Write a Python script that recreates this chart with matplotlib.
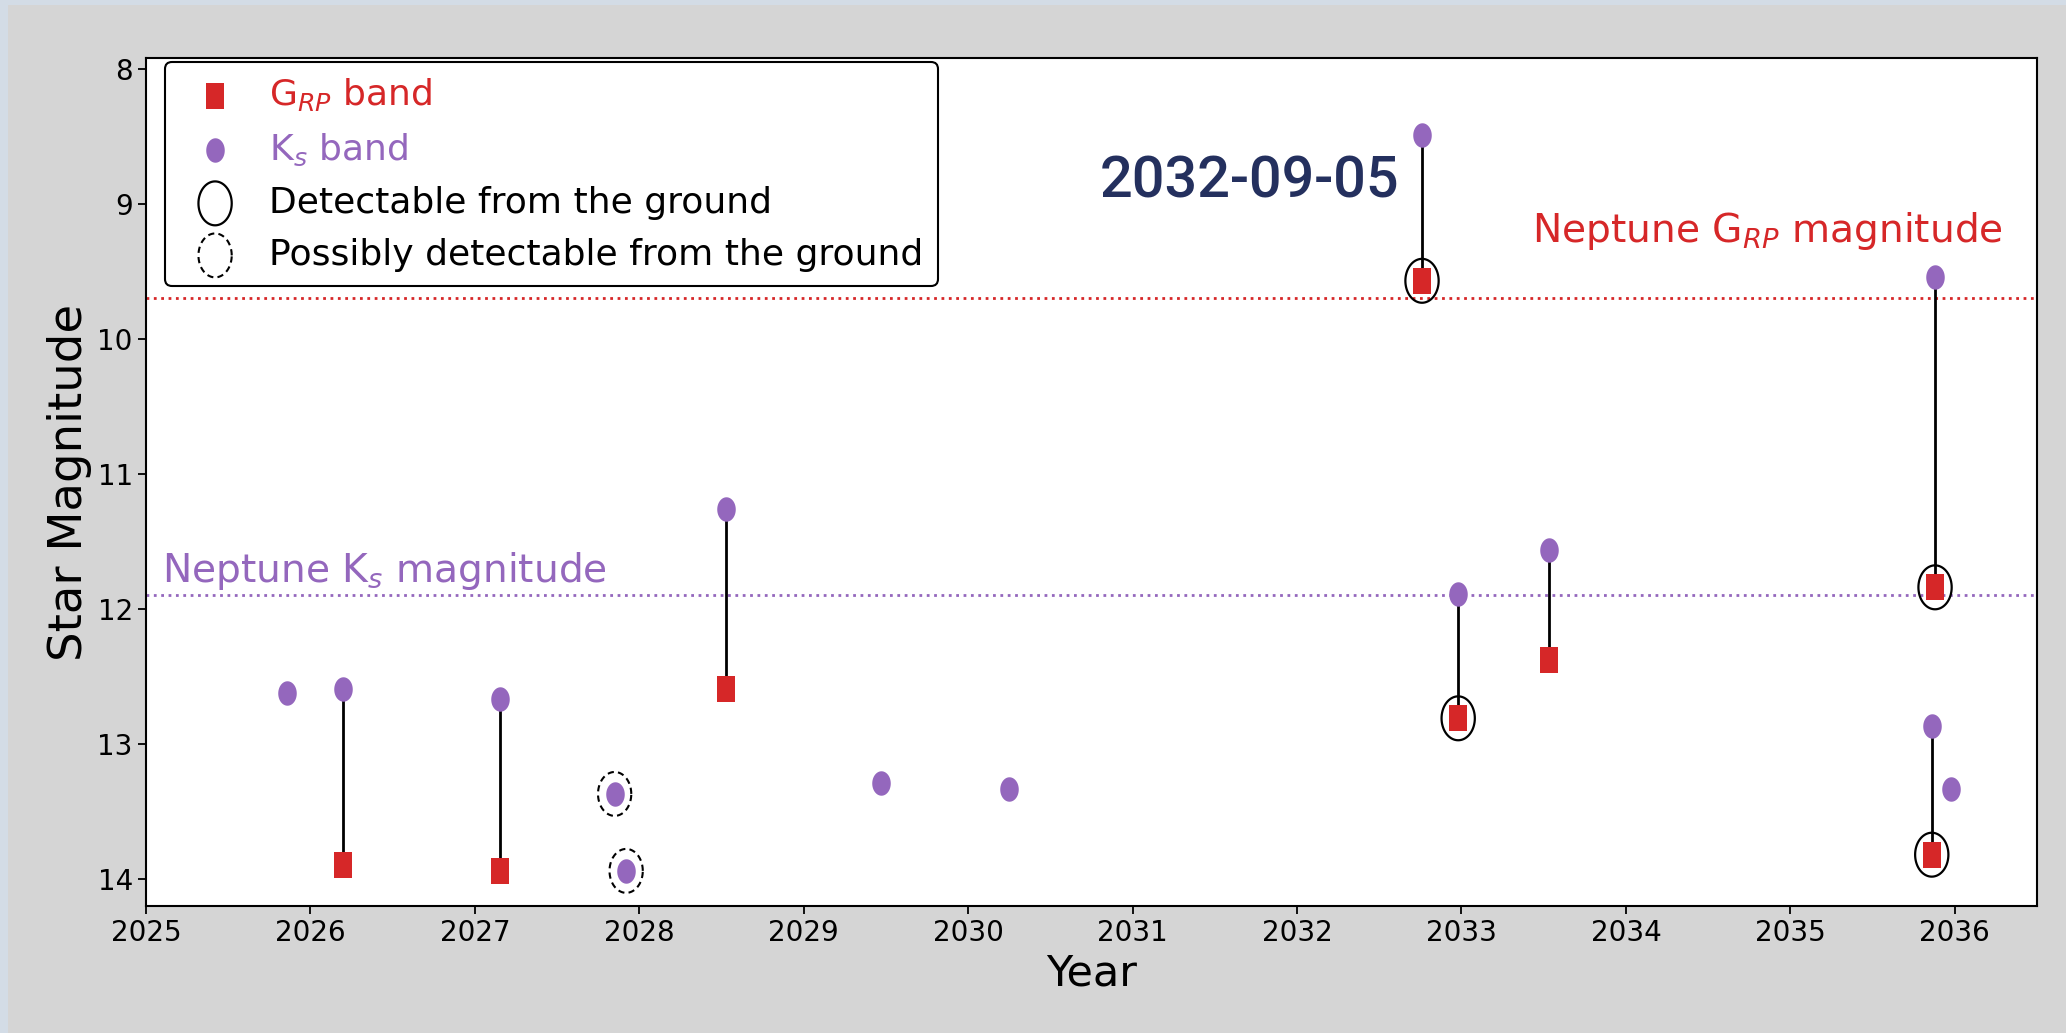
import matplotlib
matplotlib.use("Agg")
import matplotlib.pyplot as plt
import numpy as np
from matplotlib.path import Path
from matplotlib.patches import Rectangle

# ---- data ----
ks_year = [2025.86, 2026.20, 2027.15, 2027.85, 2027.92, 2028.53, 2029.47, 2030.25,
           2032.76, 2032.98, 2033.53, 2035.88, 2035.86, 2035.98]
ks_mag = [12.62, 12.59, 12.67, 13.37, 13.94, 11.26, 13.29, 13.33,
          8.49, 11.89, 11.56, 9.54, 12.87, 13.33]

grp_year = [2026.20, 2027.15, 2028.53, 2032.76, 2032.98, 2033.53, 2035.88, 2035.86]
grp_mag = [13.90, 13.94, 12.59, 9.57, 12.81, 12.38, 11.84, 13.82]

# detectable (solid ring) -> on G_RP points
det_year = [2032.76, 2032.98, 2035.88, 2035.86]
det_mag = [9.57, 12.81, 11.84, 13.82]
# possibly detectable (dashed ring) -> on Ks points
pos_year = [2027.85, 2027.92]
pos_mag = [13.37, 13.94]

# pairs joined by vertical lines
pair_year = [2026.20, 2027.15, 2028.53, 2032.76, 2032.98, 2033.53, 2035.88, 2035.86]
pair_ks = [12.59, 12.67, 11.26, 8.49, 11.89, 11.56, 9.54, 12.87]
pair_grp = [13.90, 13.94, 12.59, 9.57, 12.81, 12.38, 11.84, 13.82]

neptune_grp = 9.70
neptune_ks = 11.90
event_label = "2032-09-05"
xticks = list(range(2025, 2037))
yticks = [8, 9, 10, 11, 12, 13, 14]

RED = "#d62728"
PURPLE = "#9467bd"
NAVY = "#24305e"

# stretched (elliptical) markers to match the reference's aspect
t = np.linspace(0, 2 * np.pi, 73)
STR = 1.32
ell_verts = np.column_stack([np.cos(t), STR * np.sin(t)])
ell_path = Path(ell_verts, closed=True)
rect_path = Path([(-0.72, -1.0), (0.72, -1.0), (0.72, 1.0), (-0.72, 1.0), (-0.72, -1.0)],
                 [Path.MOVETO, Path.LINETO, Path.LINETO, Path.LINETO, Path.CLOSEPOLY])

fig = plt.figure(figsize=(20.66, 10.33), dpi=100)
fig.patch.set_facecolor("#d3dce6")
fig.patches.append(Rectangle((8 / 2066, 0), 1, 1 - 5 / 1033, transform=fig.transFigure,
                             facecolor="#d5d5d5", edgecolor="none", zorder=-10))

ax = fig.add_axes([146 / 2066, 1 - 906 / 1033, (2037 - 146) / 2066, (906 - 58) / 1033])
ax.set_facecolor("white")

ax.axhline(neptune_grp, color=RED, linestyle=":", linewidth=2.0, zorder=1)
ax.axhline(neptune_ks, color=PURPLE, linestyle=":", linewidth=2.0, zorder=1)

ax.vlines(pair_year, pair_ks, pair_grp, color="black", linewidth=2.0, zorder=2)

ax.scatter(grp_year, grp_mag, marker=rect_path, s=330, color=RED, zorder=4,
           label=r"G$_{RP}$ band", linewidths=0)
ax.scatter(ks_year, ks_mag, marker=ell_path, s=310, color=PURPLE, zorder=4,
           label=r"K$_s$ band", linewidths=0)
ax.scatter(det_year, det_mag, marker=ell_path, s=1000, facecolors="none",
           edgecolors="black", linewidths=1.6, zorder=5, label="Detectable from the ground")
ax.scatter(pos_year, pos_mag, marker=ell_path, s=1000, facecolors="none",
           edgecolors="black", linewidths=1.5, linestyle=(0, (3, 2)), zorder=5,
           label="Possibly detectable from the ground")

ax.set_xlim(2025, 2036.5)
ax.set_ylim(14.2, 7.92)
ax.set_xticks(xticks)
ax.set_yticks(yticks)
ax.tick_params(axis="both", labelsize=20, width=1.3, length=6)
for sp in ax.spines.values():
    sp.set_linewidth(1.5)

ax.set_xlabel("Year", fontsize=31)
ax.set_ylabel("Star Magnitude", fontsize=33.5)

ax.text(2036.29, 9.20, r"Neptune G$_{RP}$ magnitude", color=RED, fontsize=28.2,
        ha="right", va="center")
ax.text(2025.10, 11.72, r"Neptune K$_s$ magnitude", color=PURPLE, fontsize=28.2,
        ha="left", va="center")
ax.text(2032.62, 8.84, event_label, color=NAVY, fontsize=41.5, ha="right", va="center",
        family=["Roboto", "DejaVu Sans"], fontweight="medium")

leg = ax.legend(loc="upper left", bbox_to_anchor=(0.0098, 0.9953), borderaxespad=0,
                fontsize=26, frameon=True, framealpha=1,
                edgecolor="black", fancybox=True, handletextpad=0.5)
leg.get_frame().set_linewidth(1.5)
txts = leg.get_texts()
txts[0].set_color(RED)
txts[1].set_color(PURPLE)

fig.savefig("out.png", dpi=100, facecolor=fig.get_facecolor())
